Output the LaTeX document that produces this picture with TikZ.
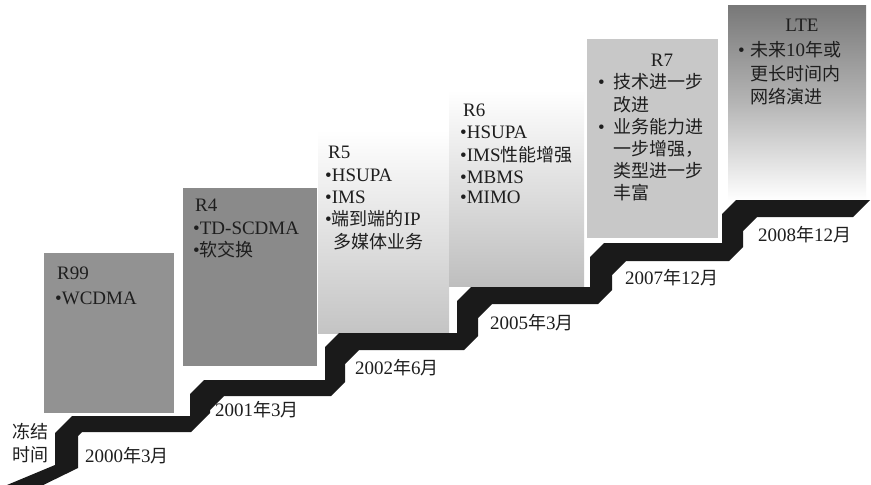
\documentclass[tikz,border=0pt]{standalone}
\usepackage{fontspec}
\setmainfont{Liberation Serif}
\newfontfamily\cjk{Noto Sans CJK SC}
\definecolor{ink}{RGB}{30,30,30}
\definecolor{stair}{RGB}{26,26,26}
\definecolor{boxRnn}{RGB}{146,146,146}
\definecolor{boxRfour}{RGB}{138,138,138}
\definecolor{boxRfive}{RGB}{196,196,196}
\definecolor{boxRsix}{RGB}{190,190,190}
\definecolor{boxRseven}{RGB}{200,200,200}
\definecolor{boxLTE}{RGB}{120,120,120}
\begin{document}
\begin{tikzpicture}[x=1pt,y=-1pt,
  txt/.style={anchor=west, inner sep=0pt, text=ink, text height=13pt, text depth=0pt,
    font=\fontsize{19}{22}\selectfont},
  ctxt/.style={txt, anchor=center},
  ]
\useasboundingbox (0,0) rectangle (871,485);
\fill[white] (0,0) rectangle (871,485);

% release boxes
\fill[boxRnn] (44,253) rectangle (174,413);
\fill[boxRfour] (183,188) rectangle (317,366);
\shade[top color=white, bottom color=boxRfive] (318,130) rectangle (449,333);
\shade[top color=white, bottom color=boxRsix] (449,90) rectangle (584,286);
\fill[boxRseven] (587,39) rectangle (718,238);
\shade[top color=boxLTE, bottom color=white, middle color=boxLTE!55!white] (728,5) rectangle (866,200);

% staircase
\begin{scope}
\clip (0,0) rectangle (871,485);
\fill[stair] (-5,490) -- (55,465) -- (55,433) -- (72,416) -- (190,416) -- (190,394)
  -- (204,380) -- (325,380) -- (325,347) -- (339,333) -- (457,333) -- (457,301)
  -- (471,287) -- (590,287) -- (590,257) -- (604,243) -- (722,243) -- (722,214)
  -- (736,200) -- (870,200) -- (853,217) -- (757,217) -- (743,231) -- (743,247)
  -- (729,261) -- (626,261) -- (612,275) -- (612,290) -- (598,304) -- (492,304)
  -- (478,318) -- (478,336) -- (464,350) -- (359,350) -- (345,364) -- (345,382)
  -- (331,396) -- (224,396) -- (210,410) -- (210,413) -- (191,432) -- (82,432)
  -- (78,436) -- (78,468) -- (33,490) -- cycle;
\end{scope}

% R99
\node[txt] (r99) at (57,273) {R99};
\node[txt] (r99a) at (55,298) {•WCDMA};
% R4
\node[txt] (r4) at (195,205) {R4};
\node[txt] (r4a) at (193,228) {•TD-SCDMA};
\node[txt] (r4b) at (193,250) {•{\cjk\fontsize{18}{22}\selectfont 软交换}};
% R5
\node[txt] (r5) at (328,152) {R5};
\node[txt] (r5a) at (325,175) {•HSUPA};
\node[txt] (r5b) at (325,197) {•IMS};
\node[txt] (r5c) at (325,219) {•{\cjk\fontsize{18}{22}\selectfont 端到端的}IP};
\node[txt] (r5d) at (333,242) {{\cjk\fontsize{18}{22}\selectfont 多媒体业务}};
% R6
\node[txt] (r6) at (463,110) {R6};
\node[txt] (r6a) at (460,132) {•HSUPA};
\node[txt] (r6b) at (460,155) {•IMS{\cjk\fontsize{18}{22}\selectfont 性能增强}};
\node[txt] (r6c) at (460,177) {•MBMS};
\node[txt] (r6d) at (460,197) {•MIMO};
% R7
\node[ctxt] (r7) at (662,60) {R7};
\node[txt] (r7p1) at (598,82) {•};
\node[txt] (r7a) at (613,82) {\cjk\fontsize{18}{22}\selectfont 技术进一步};
\node[txt] (r7b) at (613,105) {\cjk\fontsize{18}{22}\selectfont 改进};
\node[txt] (r7p2) at (598,127) {•};
\node[txt] (r7c) at (613,127) {\cjk\fontsize{18}{22}\selectfont 业务能力进};
\node[txt] (r7d) at (613,149) {\cjk\fontsize{18}{22}\selectfont 一步增强，};
\node[txt] (r7e) at (613,171) {\cjk\fontsize{18}{22}\selectfont 类型进一步};
\node[txt] (r7f) at (613,193) {\cjk\fontsize{18}{22}\selectfont 丰富};
% LTE
\node[ctxt] (lte) at (802,25) {LTE};
\node[txt] (ltep) at (738,50) {•};
\node[txt] (ltea) at (750,50) {{\cjk\fontsize{18}{22}\selectfont 未来}10{\cjk\fontsize{18}{22}\selectfont 年或}};
\node[txt] (lteb) at (750,74) {\cjk\fontsize{18}{22}\selectfont 更长时间内};
\node[txt] (ltec) at (750,97) {\cjk\fontsize{18}{22}\selectfont 网络演进};

% dates
\node[txt] (d1) at (85,456) {2000{\cjk\fontsize{18}{22}\selectfont 年}3{\cjk\fontsize{18}{22}\selectfont 月}};
\node[txt] (d2) at (215,410) {2001{\cjk\fontsize{18}{22}\selectfont 年}3{\cjk\fontsize{18}{22}\selectfont 月}};
\node[txt] (d3) at (355,368) {2002{\cjk\fontsize{18}{22}\selectfont 年}6{\cjk\fontsize{18}{22}\selectfont 月}};
\node[txt] (d4) at (490,323) {2005{\cjk\fontsize{18}{22}\selectfont 年}3{\cjk\fontsize{18}{22}\selectfont 月}};
\node[txt] (d5) at (625,278) {2007{\cjk\fontsize{18}{22}\selectfont 年}12{\cjk\fontsize{18}{22}\selectfont 月}};
\node[txt] (d6) at (758,235) {2008{\cjk\fontsize{18}{22}\selectfont 年}12{\cjk\fontsize{18}{22}\selectfont 月}};

% freeze time label
\node[txt] (f1) at (12,432) {\cjk\fontsize{18}{22}\selectfont 冻结};
\node[txt] (f2) at (12,455) {\cjk\fontsize{18}{22}\selectfont 时间};
\end{tikzpicture}
\end{document}
